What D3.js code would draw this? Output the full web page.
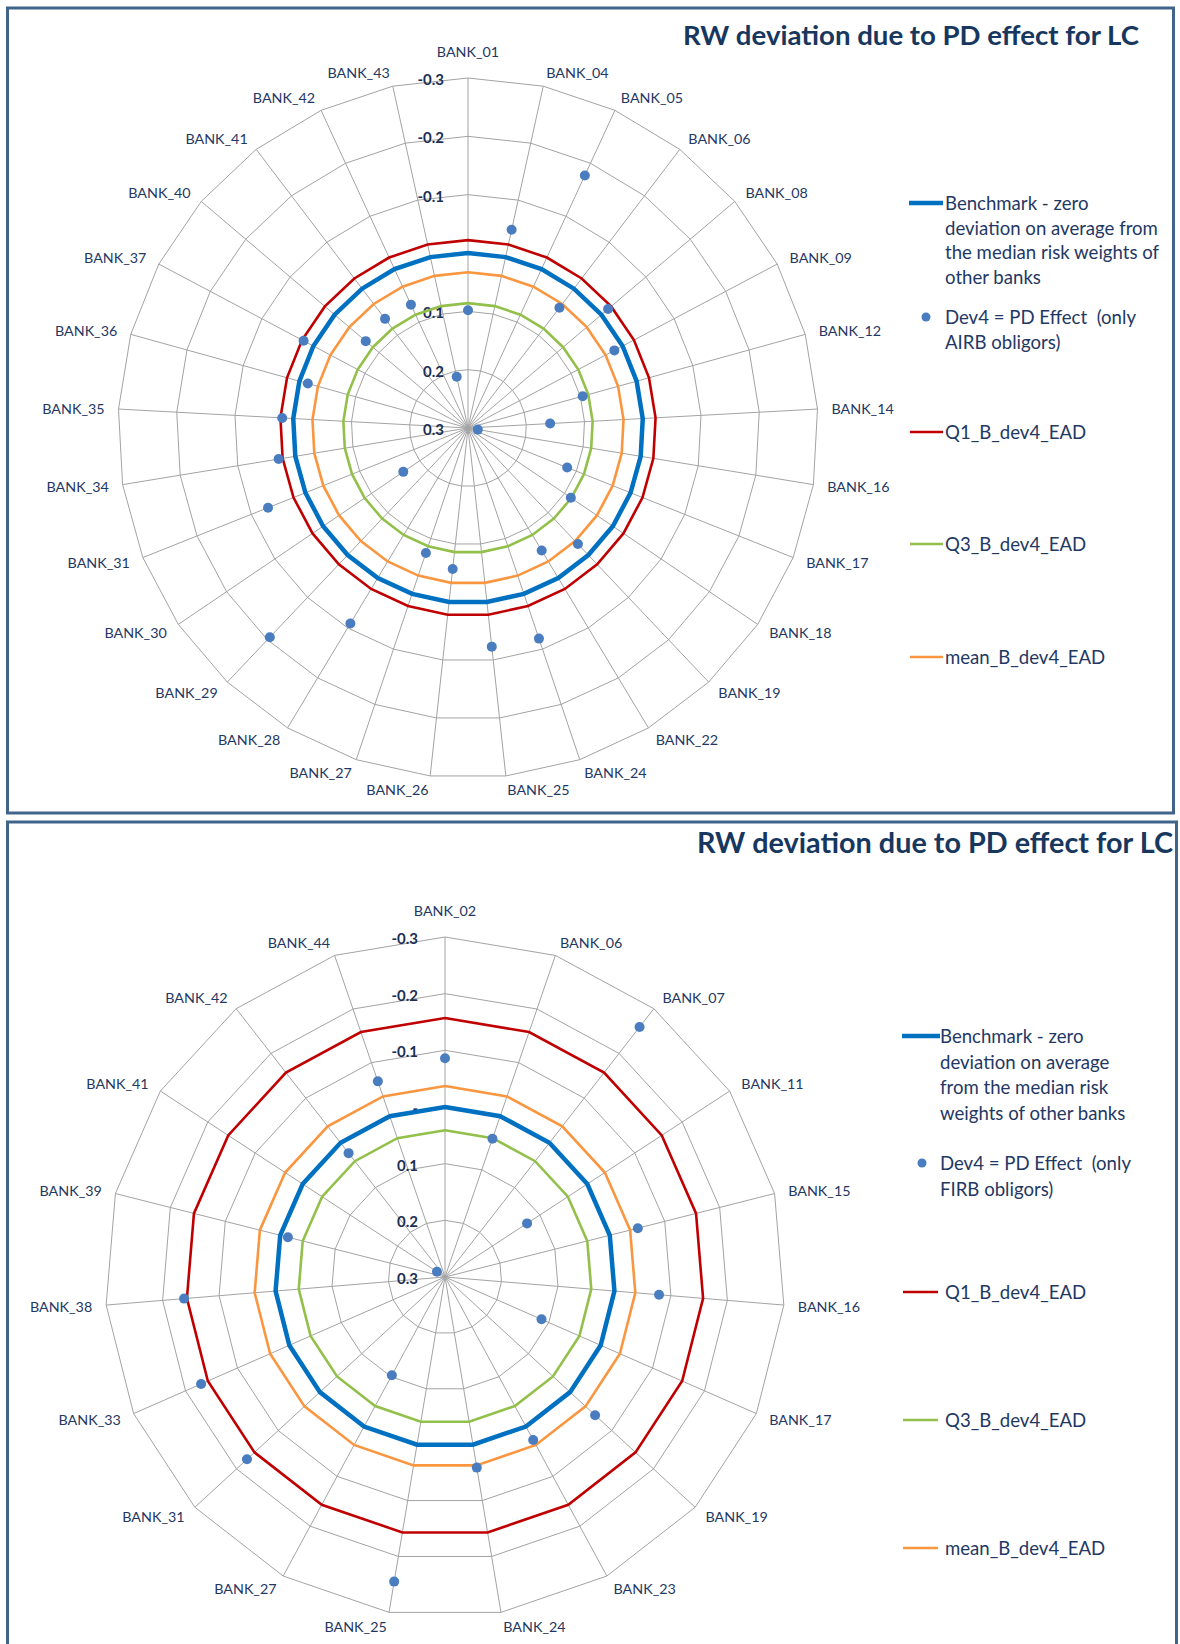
<!DOCTYPE html>
<html>
<head>
<meta charset="utf-8">
<script src="https://cdn.jsdelivr.net/npm/d3@7"></script>
<style>
  body { margin: 0; background: #fff; }
  svg { display: block; }
  text { font-family: Lato, "Open Sans", sans-serif; white-space: pre; }
</style>
</head>
<body>
<script>
var width = 1180;
var height = 1644;

// top chart (AIRB obligors)
var banksA = ['BANK_01', 'BANK_04', 'BANK_05', 'BANK_06', 'BANK_08', 'BANK_09', 'BANK_12', 'BANK_14',
  'BANK_16', 'BANK_17', 'BANK_18', 'BANK_19', 'BANK_22', 'BANK_24', 'BANK_25', 'BANK_26', 'BANK_27',
  'BANK_28', 'BANK_29', 'BANK_30', 'BANK_31', 'BANK_34', 'BANK_35', 'BANK_36', 'BANK_37', 'BANK_40',
  'BANK_41', 'BANK_42', 'BANK_43'];
var dev4A = [0.098, -0.048, -0.177, 0.041, -0.015, 0.016, 0.096, 0.159,
  0.283, 0.117, 0.087, 0.026, 0.055, -0.081, -0.077, 0.057, 0.074,
  -0.091, -0.194, 0.166, -0.069, -0.029, -0.019, 0.015, -0.019, 0.070,
  0.065, 0.067, 0.210];
var benchA = 0;
var q1A = -0.022;
var q3A = 0.086;
var meanA = 0.033;

// bottom chart (FIRB obligors)
var banksB = ['BANK_02', 'BANK_06', 'BANK_07', 'BANK_11', 'BANK_15', 'BANK_16', 'BANK_17', 'BANK_19',
  'BANK_23', 'BANK_24', 'BANK_25', 'BANK_27', 'BANK_31', 'BANK_33', 'BANK_38', 'BANK_39', 'BANK_41',
  'BANK_42', 'BANK_44'];
var dev4B = [-0.086, 0.042, -0.259, 0.127, -0.051, -0.079, 0.114, -0.060,
  -0.027, -0.041, -0.245, 0.103, -0.175, -0.170, -0.162, 0.014, 0.283,
  0.023, -0.065];
var benchB = 0;
var q1B = -0.157;
var q3B = 0.041;
var meanB = -0.037;

var tickValues = [-0.3, -0.2, -0.1, 0, 0.1, 0.2, 0.3];
var tickLabels = ['-0.3', '-0.2', '-0.1', '-', '0.1', '0.2', '0.3'];
var titleText = 'RW deviation due to PD effect for LC';

var benchTextA = ['Benchmark - zero', 'deviation on average from', 'the median risk weights of', 'other banks'];
var dev4TextA = ['Dev4 = PD Effect  (only', 'AIRB obligors)'];
var benchTextB = ['Benchmark - zero', 'deviation on average', 'from the median risk', 'weights of other banks'];
var dev4TextB = ['Dev4 = PD Effect  (only', 'FIRB obligors)'];
var q1Name = 'Q1_B_dev4_EAD';
var q3Name = 'Q3_B_dev4_EAD';
var meanName = 'mean_B_dev4_EAD';

var navy = '#1f3864';
var col = { bench: '#0070c0', dot: '#4a7dc0', q1: '#c00000', q3: '#92c04a', mean: '#f9963f', grid: '#a3a3a3' };

var svg = d3.select('body').append('svg').attr('width', width).attr('height', height);

// frames
svg.append('rect').attr('x', 7.5).attr('y', 8).attr('width', 1166).attr('height', 805)
  .attr('fill', 'none').attr('stroke', '#41648a').attr('stroke-width', 3);
svg.append('rect').attr('x', 7.5).attr('y', 822).attr('width', 1169).attr('height', 840)
  .attr('fill', 'none').attr('stroke', '#41648a').attr('stroke-width', 3);

var drawRadar = function(o) {
  var n = o.banks.length;
  var r = d3.scaleLinear().domain([0.3, -0.3]).range([0, o.R]);
  var a = d3.scaleLinear().domain([0, n]).range([0, 2 * Math.PI]);
  var idx = d3.range(n);
  var g = svg.append('g').attr('transform', 'translate(' + o.cx + ',' + o.cy + ')');

  var ring = function(v) {
    return d3.lineRadial().angle(function(i) { return a(i); })
      .radius(function() { return r(v); }).curve(d3.curveLinearClosed)(idx);
  };

  // grid rings and spokes
  g.selectAll('path.ring').data(tickValues.filter(function(v) { return r(v) > 0; }))
    .enter().append('path').attr('class', 'ring').attr('d', ring)
    .attr('fill', 'none').attr('stroke', col.grid).attr('stroke-width', 1);
  g.selectAll('line.spoke').data(idx).enter().append('line')
    .attr('x1', 0).attr('y1', 0)
    .attr('x2', function(i) { return r(-0.3) * Math.sin(a(i)); })
    .attr('y2', function(i) { return -r(-0.3) * Math.cos(a(i)); })
    .attr('stroke', col.grid).attr('stroke-width', 1);

  // radial tick labels
  g.selectAll('text.tick').data(tickValues).enter().append('text')
    .attr('x', -o.tickGap).attr('y', function(v) { return -r(v) + 1; })
    .attr('text-anchor', 'end').attr('dominant-baseline', 'central')
    .attr('font-size', 15).attr('font-weight', 'bold').attr('fill', '#1c2f55')
    .text(function(v, i) { return tickLabels[i]; });

  // category labels
  g.selectAll('text.cat').data(o.banks).enter().append('text')
    .each(function(b, i) {
      var t = a(i), s = Math.sin(t), c = Math.cos(t);
      var vx = r(-0.3) * s, vy = -r(-0.3) * c;
      var anchor = Math.abs(s) < 0.02 ? 'middle' : (s > 0 ? 'start' : 'end');
      var lx = vx + 14 * s, ly = vy - 14 * c;
      if (anchor === 'middle') ly = vy - (c > 0 ? 27 : -27);
      d3.select(this).attr('x', lx).attr('y', ly).attr('text-anchor', anchor);
    })
    .attr('dominant-baseline', 'central').attr('font-size', 14.3).attr('fill', navy)
    .text(function(b) { return b; });

  // constant series
  var series = [
    { v: o.q1, c: col.q1, w: 2.6 },
    { v: o.q3, c: col.q3, w: 2.6 },
    { v: o.mean, c: col.mean, w: 2.6 },
    { v: o.bench, c: col.bench, w: 4.5 }
  ];
  g.selectAll('path.series').data(series).enter().append('path')
    .attr('d', function(d) { return ring(d.v); })
    .attr('fill', 'none').attr('stroke', function(d) { return d.c; })
    .attr('stroke-width', function(d) { return d.w; }).attr('stroke-linejoin', 'miter');

  // Dev4 dots
  g.selectAll('circle.dot').data(o.dev4).enter().append('circle')
    .attr('cx', function(v, i) { return r(v) * Math.sin(a(i)); })
    .attr('cy', function(v, i) { return -r(v) * Math.cos(a(i)); })
    .attr('r', 5).attr('fill', col.dot);

  // title
  svg.append('text').attr('x', o.titleX).attr('y', o.titleY)
    .attr('font-size', o.titleSize).attr('font-weight', 'bold').attr('fill', '#17375e')
    .attr('textLength', o.titleW).attr('lengthAdjust', 'spacingAndGlyphs')
    .text(titleText);

  // legend
  var L = o.legend;
  var lg = svg.append('g');
  var addLines = function(x, y, lines) {
    lines.forEach(function(t, k) {
      lg.append('text').attr('x', x).attr('y', y + k * L.lh).attr('dominant-baseline', 'central')
        .attr('font-size', 18.6).attr('fill', navy).text(t);
    });
  };
  var lineKeys = [
    { y: L.benchY, c: col.bench, w: 4.5, x1: L.bx1, x2: L.bx2, tx: L.btx, lines: o.benchText },
    { y: L.q1Y, c: col.q1, w: 2.6, x1: L.lx1, x2: L.lx2, tx: L.ltx, lines: [q1Name] },
    { y: L.q3Y, c: col.q3, w: 2.6, x1: L.lx1, x2: L.lx2, tx: L.ltx, lines: [q3Name] },
    { y: L.meanY, c: col.mean, w: 2.6, x1: L.lx1, x2: L.lx2, tx: L.ltx, lines: [meanName] }
  ];
  lineKeys.forEach(function(k) {
    lg.append('line').attr('x1', k.x1).attr('x2', k.x2).attr('y1', k.y).attr('y2', k.y)
      .attr('stroke', k.c).attr('stroke-width', k.w);
    addLines(k.tx, k.y, k.lines);
  });
  lg.append('circle').attr('cx', L.dotX).attr('cy', L.dotY).attr('r', 4.5).attr('fill', col.dot);
  addLines(L.btx, L.dotY, o.dev4Text);
};

drawRadar({
  banks: banksA, dev4: dev4A, bench: benchA, q1: q1A, q3: q3A, mean: meanA,
  cx: 468, cy: 428, R: 350, tickGap: 24,
  titleX: 683, titleY: 45, titleSize: 27, titleW: 456,
  benchText: benchTextA, dev4Text: dev4TextA,
  legend: { lh: 24.6, benchY: 203, bx1: 909, bx2: 943, btx: 945, dotX: 926, dotY: 317,
    q1Y: 432, q3Y: 544, meanY: 657, lx1: 910, lx2: 943, ltx: 945 }
});

drawRadar({
  banks: banksB, dev4: dev4B, bench: benchB, q1: q1B, q3: q3B, mean: meanB,
  cx: 445, cy: 1277, R: 340, tickGap: 27,
  titleX: 697, titleY: 853, titleSize: 28, titleW: 476,
  benchText: benchTextB, dev4Text: dev4TextB,
  legend: { lh: 25.6, benchY: 1036, bx1: 902, bx2: 940, btx: 940, dotX: 922, dotY: 1163,
    q1Y: 1292, q3Y: 1420, meanY: 1548, lx1: 903, lx2: 938, ltx: 945 }
});
</script>
</body>
</html>
